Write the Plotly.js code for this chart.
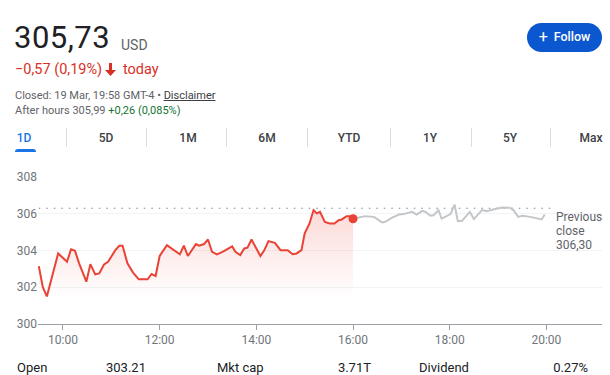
<!DOCTYPE html>
<html>
<head>
<meta charset="utf-8">
<script src="https://cdn.plot.ly/plotly-3.0.1.min.js"></script>
<style>
  html, body { margin: 0; padding: 0; background: #fff; }
  #wrap { position: relative; width: 610px; height: 375px; overflow: hidden; font-family: Roboto, Arial, sans-serif; }
  #chart { position: absolute; left: 0; top: 0; width: 610px; height: 375px; }
  .t { position: absolute; line-height: 1; white-space: nowrap; z-index: 2; }
  .tab { position: absolute; width: 60px; text-align: center; font-size: 12px; font-weight: 500; color: #3c4043; line-height: 1; top: 131.5px; z-index: 2; }
  .sep { position: absolute; top: 128px; width: 1px; height: 19px; background: #dadce0; z-index: 2; }
  .foot { position: absolute; line-height: 1; white-space: nowrap; z-index: 2; top: 361px; font-size: 13px; color: #202124; }
</style>
</head>
<body>
<div id="wrap">
  <div id="chart"></div>

  <div class="t" style="left:14px; top:22.2px; font-size:31px; letter-spacing:0.5px; color:#202124;">305,73</div>
  <div class="t" style="left:121px; top:37.5px; font-size:14px; color:#5f6368;">USD</div>

  <div class="t" style="left:15px; top:62.8px; font-size:14.5px; color:#d93025;">−0,57 (0,19%)</div>
  <svg style="position:absolute; left:104px; top:63px; z-index:2;" width="13" height="13" viewBox="0 0 13 13">
    <path d="M5 0 H8 V7 H12 L6.5 13 L1 7 H5 Z" fill="#d93025"/>
  </svg>
  <div class="t" style="left:123px; top:62.8px; font-size:14.5px; color:#d93025;">today</div>

  <div class="t" style="left:15px; top:90.2px; font-size:11px; color:#5f6368;">Closed: 19 Mar, 19:58 GMT-4 • <span style="text-decoration:underline; color:#3c4043;">Disclaimer</span></div>
  <div class="t" style="left:15px; top:105px; font-size:11px; color:#5f6368;">After hours 305,99 <span style="color:#137333;">+0,26 (0,085%)</span></div>

  <div style="position:absolute; left:527px; top:23px; width:75px; height:29px; border-radius:15px; background:#0b57d0; z-index:2; display:flex; align-items:center; justify-content:center; color:#fff; font-family:Roboto, Arial, sans-serif;">
    <span style="font-size:16px; font-weight:400; line-height:1; margin-right:6px; margin-top:-1px;">+</span><span style="font-size:12.5px; font-weight:500; line-height:1;">Follow</span>
  </div>

  <div class="tab" style="left:-6px; color:#1a73e8;">1D</div>
  <div class="tab" style="left:76px;">5D</div>
  <div class="tab" style="left:158px;">1M</div>
  <div class="tab" style="left:237px;">6M</div>
  <div class="tab" style="left:319px;">YTD</div>
  <div class="tab" style="left:400px;">1Y</div>
  <div class="tab" style="left:480px;">5Y</div>
  <div class="tab" style="left:561px;">Max</div>
  <div style="position:absolute; left:15px; top:149px; width:21px; height:3px; background:#1a73e8; border-radius:3px 3px 0 0; z-index:2;"></div>
  <div class="sep" style="left:66px;"></div>
  <div class="sep" style="left:146px;"></div>
  <div class="sep" style="left:226px;"></div>
  <div class="sep" style="left:307px;"></div>
  <div class="sep" style="left:390px;"></div>
  <div class="sep" style="left:471px;"></div>
  <div class="sep" style="left:550px;"></div>

  <div class="foot" style="left:17px;">Open</div>
  <div class="foot" style="left:106px;">303.21</div>
  <div class="foot" style="left:217px;">Mkt cap</div>
  <div class="foot" style="right:239px;">3.71T</div>
  <div class="foot" style="left:419px;">Dividend</div>
  <div class="foot" style="right:22px;">0.27%</div>
</div>

<script>
const DAY = "2025-03-19";

const regularTimes = ["09:30","09:35","09:40","09:47","09:54","10:05","10:10","10:15","10:20","10:29",
  "10:34","10:40","10:45","10:51","10:56","11:05","11:10","11:14","11:20","11:27",
  "11:34","11:45","11:50","11:55","12:00","12:09","12:18","12:25","12:30","12:35",
  "12:45","12:49","12:55","13:00","13:05","13:11","13:18","13:30","13:34","13:40",
  "13:45","13:49","13:54","14:05","14:10","14:15","14:23","14:30","14:39","14:45",
  "14:50","14:56","15:00","15:06","15:11","15:15","15:19","15:25","15:31","15:37",
  "15:42","15:46","15:52","15:56","16:00"];
const regularPrices = [303.15,302.0,301.5,302.75,303.84,303.39,304.06,303.98,303.3,302.3,
  303.26,302.7,302.75,303.24,303.39,304.02,304.26,304.26,303.3,302.8,
  302.43,302.43,302.72,302.61,303.7,304.29,303.98,303.79,304.26,303.7,
  304.35,304.26,304.35,304.6,303.93,303.79,303.93,304.22,303.93,303.75,
  304.11,304.15,304.6,303.7,304.02,304.51,304.42,304.02,304.02,303.8,
  303.84,304.02,304.93,305.47,306.2,306.02,306.1,305.56,305.47,305.47,
  305.65,305.69,305.87,305.87,305.73];

const afterTimes = ["16:00","16:07","16:15","16:26","16:36","16:40","16:48","16:57","17:03","17:13",
  "17:19","17:26","17:30","17:36","17:40","17:46","17:50","18:01","18:06","18:10",
  "18:15","18:25","18:30","18:40","18:46","18:54","19:05","19:15","19:19","19:25",
  "19:30","19:40","19:54","19:58"];
const afterPrices = [305.73,305.78,305.87,305.83,305.53,305.56,305.78,305.96,305.98,306.1,
  305.96,306.16,306.1,305.89,305.92,306.2,305.74,305.98,306.5,305.6,
  305.6,306.1,305.71,306.2,306.14,306.23,306.34,306.32,306.2,305.83,
  305.89,305.83,305.69,305.96];

const previousClose = 306.30;
const previousCloseLabel = ["Previous", "close", "306,30"];
const closeTime = "16:00";
const closePrice = 305.73;

const xTickTimes = ["10:00","12:00","14:00","16:00","18:00","20:00"];
const yTicks = [300, 302, 304, 306, 308];

const ts = t => DAY + " " + t;
const FONT = "Roboto, Arial, sans-serif";

const traces = [
  {
    x: regularTimes.map(ts), y: regularPrices, type: "scatter", mode: "lines",
    line: { color: "#ea4335", width: 2 },
    fill: "tozeroy",
    fillgradient: { type: "vertical", start: 301.5, stop: 306.3,
      colorscale: [[0, "rgba(234,67,53,0)"], [1, "rgba(234,67,53,0.2)"]] },
    hoverinfo: "skip"
  },
  {
    x: afterTimes.map(ts), y: afterPrices, type: "scatter", mode: "lines",
    line: { color: "#c4c7ca", width: 2 }, hoverinfo: "skip"
  },
  {
    x: [ts(closeTime)], y: [closePrice], type: "scatter", mode: "markers",
    marker: { color: "#ea4335", size: 9 }, hoverinfo: "skip"
  }
];

const layout = {
  width: 610, height: 375,
  margin: { l: 38, r: 8, t: 177, b: 51 },
  paper_bgcolor: "rgba(0,0,0,0)", plot_bgcolor: "rgba(0,0,0,0)",
  showlegend: false,
  font: { family: FONT, size: 12, color: "#70757a" },
  xaxis: {
    type: "date",
    range: [ts("09:29"), ts("21:09")],
    tickvals: xTickTimes.map(ts),
    ticktext: xTickTimes,
    ticks: "outside", ticklen: 5, tickcolor: "#9aa0a6", tickwidth: 1,
    showline: true, linecolor: "#9aa0a6", linewidth: 1,
    showgrid: false, zeroline: false,
    tickfont: { family: FONT, size: 12, color: "#70757a" },
    fixedrange: true
  },
  yaxis: {
    range: [300, 308],
    tickvals: yTicks,
    ticktext: yTicks.map(String),
    ticks: "", showline: false, zeroline: false,
    showgrid: true, gridcolor: "#f1f3f4", gridwidth: 1,
    tickfont: { family: FONT, size: 12, color: "#70757a" },
    fixedrange: true
  },
  shapes: [{
    type: "line", xref: "x", yref: "y",
    x0: ts("09:30"), x1: ts("20:05"), y0: previousClose, y1: previousClose,
    line: { color: "#80868b", width: 1, dash: "1.5px,6px" }, layer: "below"
  }],
  annotations: previousCloseLabel.map((txt, i) => ({
    x: ts("20:10"), y: previousClose, xref: "x", yref: "y",
    text: txt, showarrow: false, xanchor: "left", yanchor: "top",
    yshift: -i * 14, align: "left",
    font: { family: FONT, size: 12, color: "#5f6368" }
  }))
};

Plotly.newPlot("chart", traces, layout, { staticPlot: true, displayModeBar: false });
</script>
</body>
</html>
